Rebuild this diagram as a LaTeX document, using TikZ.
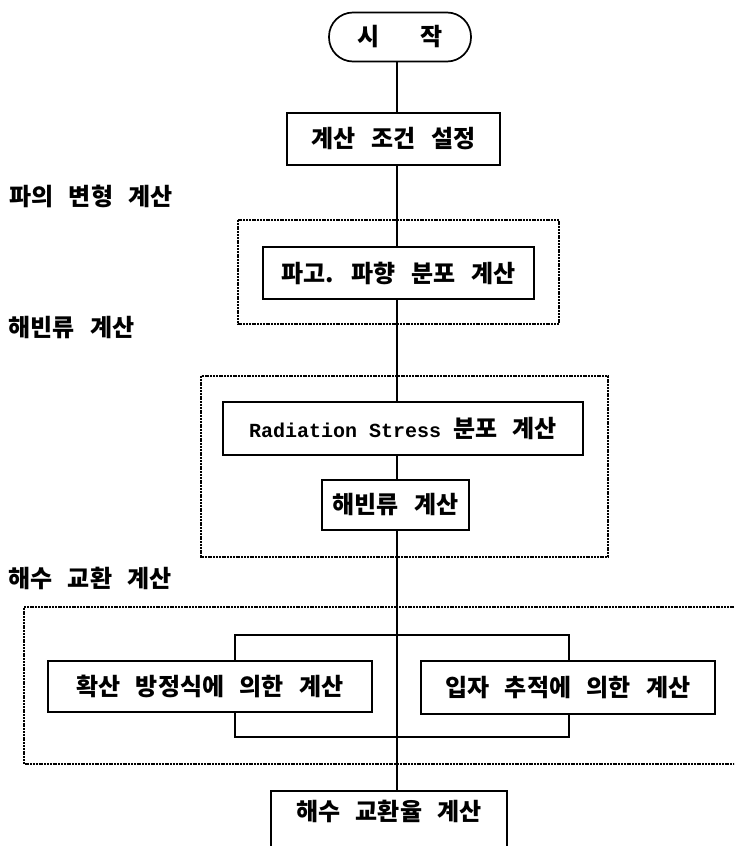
\documentclass[tikz,border=0pt]{standalone}
\usepackage{fontspec}
\setmainfont{Noto Sans CJK KR}
\newfontfamily\monofam{Liberation Mono}
\newcommand\krfont{\fontsize{24}{28}\selectfont\bfseries\spaceskip 0.65em\relax}
\newcommand\rsfont{\monofam\fontsize{20}{24}\selectfont\bfseries\spaceskip 0pt\relax}
\begin{document}
\begin{tikzpicture}[x=1pt,y=-1pt,
  every node/.style={font=\krfont, inner sep=0pt},
  box/.style={draw, line width=1.7pt, fill=white, minimum height=52pt},
  grp/.style={line width=1.1pt, dash pattern=on 2pt off 0.8pt},
  lbl/.style={anchor=west},
  trunk/.style={line width=1.7pt}]
\useasboundingbox (0,0) rectangle (734,846);
\clip (0,0) rectangle (734,846);
% group frames
\draw[grp] (238,220) rectangle (559,324);
\draw[grp] (201,376) rectangle (608,557);
\draw[grp] (740,607) -- (24,607) -- (24,764) -- (740,764);
% bracket frame around the two parallel computations
\draw[line width=1.7pt] (235,635) rectangle (569,737);
% nodes
\node[box, rounded corners=24pt, minimum width=142pt, minimum height=49pt] (start) at (400,37) {시\hspace{1.7em}작};
\node[box, minimum width=213pt] (b2) at (393.5,139) {계산 조건 설정};
\node[box, minimum width=271pt] (b3) at (398.5,273) {파고. 파향 분포 계산};
\node[box, minimum width=360pt, minimum height=53pt] (rad) at (403,428.5) {{\rsfont Radiation Stress }분포 계산};
\node[box, minimum width=147pt, minimum height=50pt] (hb) at (395.5,505) {해빈류 계산};
\node[box, minimum width=324pt, minimum height=51pt] (dif) at (210,686.5) {확산 방정식에 의한 계산};
\node[box, minimum width=294pt, minimum height=53pt] (par) at (568,687.5) {입자 추적에 의한 계산};
\node[box, minimum width=236pt, minimum height=64pt, anchor=north] (last) at (389,790) {};
\node (lasttxt) at (389,811) {해수 교환율 계산};
% labels
\node[lbl] (l1) at (9,196) {파의 변형 계산};
\node[lbl] (l2) at (8,328) {해빈류 계산};
\node[lbl] (l3) at (8,578) {해수 교환 계산};
% trunk
\coordinate (tx) at (397,0);
\draw[trunk] (start.south -| tx) -- (b2.north -| tx);
\draw[trunk] (b2.south -| tx) -- (b3.north -| tx);
\draw[trunk] (b3.south -| tx) -- (rad.north -| tx);
\draw[trunk] (rad.south -| tx) -- (hb.north -| tx);
\draw[trunk] (hb.south -| tx) -- (last.north -| tx);
\end{tikzpicture}
\end{document}
